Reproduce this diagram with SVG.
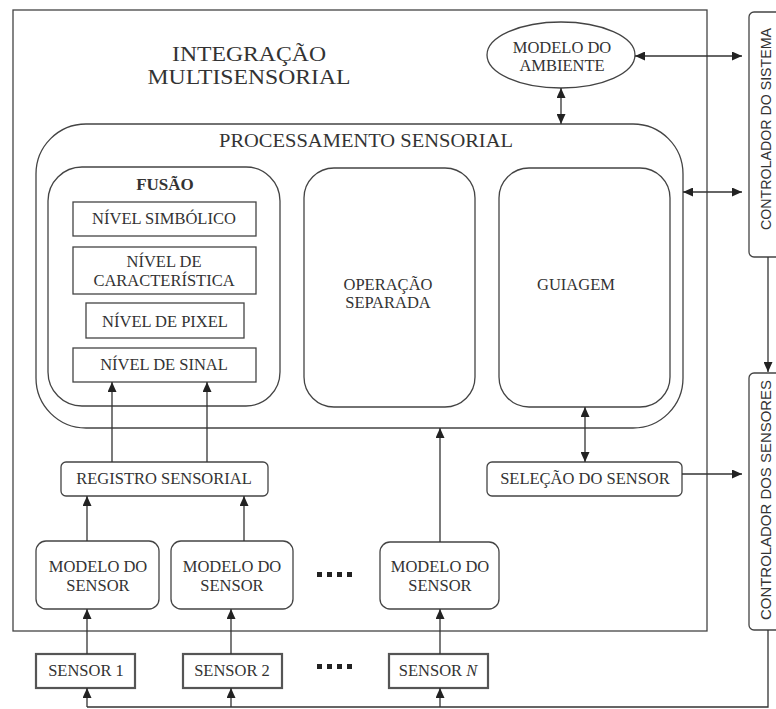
<svg xmlns="http://www.w3.org/2000/svg" width="776" height="709" viewBox="0 0 776 709">
  <defs>
    <marker id="arrow" viewBox="0 0 10 9" refX="10" refY="4.5" markerWidth="10" markerHeight="9" markerUnits="userSpaceOnUse" orient="auto-start-reverse">
      <path d="M0,0 L10,4.5 L0,9 z" fill="#222"/>
    </marker>
    <style>
      .box { fill: #fff; stroke: #444; stroke-width: 1.3; }
      .sensor { fill: #fff; stroke: #555; stroke-width: 2.2; }
      .line { fill: none; stroke: #333; stroke-width: 1.3; }
      .one { marker-end: url(#arrow); }
      .two { marker-start: url(#arrow); marker-end: url(#arrow); }
      text { font-family: "Liberation Serif", "Times New Roman", serif; fill: #333; text-anchor: middle; }
      .t17 { font-size: 16.5px; }
      .sans { font-family: "Liberation Sans", Arial, sans-serif; font-size: 15px; }
      .dot { fill: #222; }
    </style>
  </defs>

  <rect width="776" height="709" fill="#fff"/>

  <!-- outer integration frame -->
  <g id="integracao">
    <rect class="box" x="13" y="10" width="694" height="621"/>
    <text x="249" y="61" font-size="21" textLength="154" lengthAdjust="spacingAndGlyphs">INTEGRAÇÃO</text>
    <text x="249" y="84" font-size="21" textLength="203" lengthAdjust="spacingAndGlyphs">MULTISENSORIAL</text>
  </g>

  <g id="modelo-ambiente">
    <ellipse class="box" cx="561" cy="55" rx="74" ry="33"/>
    <text class="t17" x="562" y="53">MODELO DO</text>
    <text class="t17" x="562" y="71">AMBIENTE</text>
  </g>

  <g id="processamento">
    <rect class="box" x="36" y="124" width="647" height="304" rx="50" ry="50"/>
    <text x="366" y="147" font-size="18.5" textLength="294" lengthAdjust="spacingAndGlyphs">PROCESSAMENTO SENSORIAL</text>
  </g>

  <g id="fusao">
    <rect class="box" x="48" y="167" width="232" height="239" rx="34" ry="34"/>
    <text x="165" y="190" font-size="17" font-weight="bold">FUSÃO</text>
  </g>

  <g id="nivel-simbolico">
    <rect class="box" x="73" y="202" width="183" height="34"/>
    <text class="t17" x="164" y="224">NÍVEL SIMBÓLICO</text>
  </g>

  <g id="nivel-caracteristica">
    <rect class="box" x="73" y="247" width="183" height="47"/>
    <text class="t17" x="164" y="267">NÍVEL DE</text>
    <text class="t17" x="164" y="286">CARACTERÍSTICA</text>
  </g>

  <g id="nivel-pixel">
    <rect class="box" x="86" y="303" width="158" height="35"/>
    <text class="t17" x="165" y="327">NÍVEL DE PIXEL</text>
  </g>

  <g id="nivel-sinal">
    <rect class="box" x="73" y="348" width="183" height="34"/>
    <text class="t17" x="164" y="370">NÍVEL DE SINAL</text>
  </g>

  <g id="operacao-separada">
    <rect class="box" x="304" y="168" width="171" height="239" rx="30" ry="30"/>
    <text class="t17" x="388" y="290">OPERAÇÃO</text>
    <text class="t17" x="388" y="308">SEPARADA</text>
  </g>

  <g id="guiagem">
    <rect class="box" x="499" y="168" width="171" height="239" rx="30" ry="30"/>
    <text class="t17" x="576" y="290">GUIAGEM</text>
  </g>

  <g id="registro-sensorial">
    <rect class="box" x="61" y="462" width="207" height="34" rx="5" ry="5"/>
    <text class="t17" x="164" y="484">REGISTRO SENSORIAL</text>
  </g>

  <g id="selecao-sensor">
    <rect class="box" x="487" y="462" width="195" height="34" rx="5" ry="5"/>
    <text class="t17" x="585" y="484">SELEÇÃO DO SENSOR</text>
  </g>

  <g id="modelo-sensor-1">
    <rect class="box" x="36" y="541" width="123" height="68" rx="10" ry="10"/>
    <text class="t17" x="98" y="572">MODELO DO</text>
    <text class="t17" x="98" y="591">SENSOR</text>
  </g>

  <g id="modelo-sensor-2">
    <rect class="box" x="171" y="541" width="122" height="68" rx="10" ry="10"/>
    <text class="t17" x="232" y="572">MODELO DO</text>
    <text class="t17" x="232" y="591">SENSOR</text>
  </g>

  <g id="modelo-sensor-n">
    <rect class="box" x="380" y="542" width="119" height="67" rx="10" ry="10"/>
    <text class="t17" x="440" y="572">MODELO DO</text>
    <text class="t17" x="440" y="591">SENSOR</text>
  </g>

  <!-- ellipsis between sensor columns -->
  <g id="reticencias">
    <rect class="dot" x="317" y="572" width="5" height="5"/>
    <rect class="dot" x="327" y="572" width="5" height="5"/>
    <rect class="dot" x="337" y="572" width="5" height="5"/>
    <rect class="dot" x="347" y="572" width="5" height="5"/>
    <rect class="dot" x="317" y="664" width="5" height="5"/>
    <rect class="dot" x="327" y="664" width="5" height="5"/>
    <rect class="dot" x="337" y="664" width="5" height="5"/>
    <rect class="dot" x="347" y="664" width="5" height="5"/>
  </g>

  <g id="sensor-1">
    <rect class="sensor" x="36" y="654" width="99" height="34"/>
    <text class="t17" x="86" y="676">SENSOR 1</text>
  </g>

  <g id="sensor-2">
    <rect class="sensor" x="183" y="654" width="99" height="34"/>
    <text class="t17" x="232" y="676">SENSOR 2</text>
  </g>

  <g id="sensor-n">
    <rect class="sensor" x="389" y="654" width="99" height="34"/>
    <text class="t17" x="438" y="676">SENSOR <tspan font-style="italic">N</tspan></text>
  </g>

  <g id="controlador-sistema">
    <rect class="box" x="749" y="12" width="40" height="245" rx="5" ry="5"/>
    <text class="sans" transform="translate(771,129) rotate(-90)" textLength="202" lengthAdjust="spacingAndGlyphs">CONTROLADOR DO SISTEMA</text>
  </g>

  <g id="controlador-sensores">
    <rect class="box" x="749" y="373" width="40" height="257" rx="5" ry="5"/>
    <text class="sans" transform="translate(771,500) rotate(-90)" textLength="240" lengthAdjust="spacingAndGlyphs">CONTROLADOR DOS SENSORES</text>
  </g>

  <!-- connectors -->
  <g id="connectors">
    <line class="line two" x1="635" y1="56" x2="742" y2="56"/>
    <line class="line two" x1="561" y1="88" x2="561" y2="124"/>
    <line class="line two" x1="683" y1="192" x2="742" y2="192"/>
    <line class="line one" x1="768" y1="257" x2="768" y2="372"/>
    <line class="line one" x1="682" y1="474" x2="742" y2="474"/>
    <line class="line two" x1="585" y1="407" x2="585" y2="462"/>
    <line class="line one" x1="112" y1="462" x2="112" y2="382"/>
    <line class="line one" x1="207" y1="462" x2="207" y2="382"/>
    <line class="line one" x1="87" y1="541" x2="87" y2="496"/>
    <line class="line one" x1="244" y1="541" x2="244" y2="496"/>
    <line class="line one" x1="440" y1="542" x2="440" y2="428"/>
    <line class="line one" x1="87" y1="654" x2="87" y2="609"/>
    <line class="line one" x1="231" y1="654" x2="231" y2="609"/>
    <line class="line one" x1="440" y1="654" x2="440" y2="609"/>
    <path class="line" d="M768,630 V707 H87"/>
    <line class="line one" x1="87" y1="707" x2="87" y2="688"/>
    <line class="line one" x1="231" y1="707" x2="231" y2="688"/>
    <line class="line one" x1="440" y1="707" x2="440" y2="688"/>
  </g>
</svg>
